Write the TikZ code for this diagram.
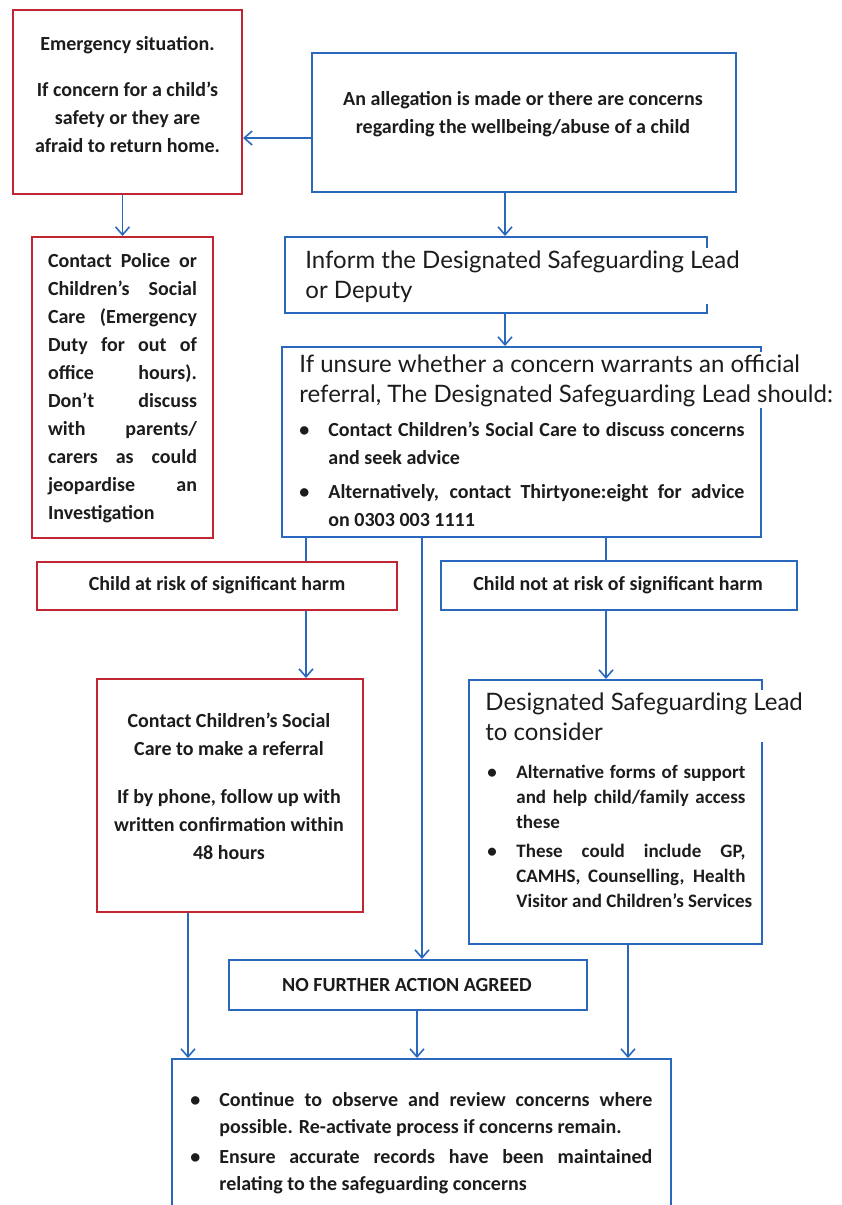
\documentclass[tikz,border=0pt]{standalone}
\usepackage{fontspec}
\setmainfont{Carlito}
\newfontfamily\headfont{Lato}
\usetikzlibrary{arrows.meta}
\definecolor{linered}{RGB}{193,39,50}
\definecolor{lineblue}{RGB}{42,104,190}
\definecolor{ink}{RGB}{28,28,28}
\tikzset{
  redbox/.style={draw=linered, line width=1pt, inner sep=0pt},
  bluebox/.style={draw=lineblue, line width=1pt, inner sep=0pt},
  txt/.style={text=ink, inner sep=0pt, font=\bfseries\fontsize{10}{14}\selectfont},
  headtxt/.style={text=ink, fill=white, inner sep=1pt, align=left, anchor=north west,
    font=\headfont\fontsize{12}{15}\selectfont},
  arr/.style={lineblue, line width=0.8pt, -{Straight Barb[length=4pt,width=7pt]}},
  link/.style={lineblue, line width=0.8pt},
}
\newcommand\bul{\makebox[14.5pt][l]{\textbullet}}
\newcommand\jline[2]{\makebox[#1][s]{#2}}
\begin{document}
\begin{tikzpicture}[x=0.5pt, y=-0.5pt]
\useasboundingbox (0,0) rectangle (841,1205);
\clip (0,0) rectangle (841,1205);

% boxes
\node[redbox, minimum width=114.5pt, minimum height=92pt] (emerg) at (127.5,102) {};
\node[bluebox, minimum width=212pt, minimum height=69.5pt] (alleg) at (524,122.5) {};
\node[redbox, minimum width=90.5pt, minimum height=150.5pt] (police) at (122.5,387.5) {};
\node[bluebox, minimum width=211pt, minimum height=38pt] (inform) at (496,275) {};
\node[bluebox, minimum width=239.5pt, minimum height=95pt] (unsure) at (521.5,442) {};
\node[redbox, minimum width=180pt, minimum height=24pt] (risk) at (217,586) {};
\node[bluebox, minimum width=178pt, minimum height=24.5pt] (norisk) at (619,585.5) {};
\node[redbox, minimum width=133pt, minimum height=116.5pt] (contact) at (230,795.5) {};
\node[bluebox, minimum width=146.5pt, minimum height=132pt] (dsl) at (615.5,812) {};
\node[bluebox, minimum width=179pt, minimum height=25pt] (nfa) at (408,985) {};
\node[bluebox, minimum width=249.5pt, minimum height=83pt] (review) at (421.5,1142) {};

% lanes for the connectors
\coordinate (rowa) at (0,138);
\coordinate (lanea) at (505,0);
\coordinate (laneb) at (306,0);
\coordinate (lanec) at (422,0);
\coordinate (laned) at (606,0);
\coordinate (lanee) at (188,0);
\coordinate (lanef) at (417,0);
\coordinate (laneg) at (628,0);

% connectors
\draw[arr] (alleg.west |- rowa) -- (emerg.east |- rowa);
\draw[arr] (emerg.south -| police.north) -- (police.north);
\draw[arr] (alleg.south -| lanea) -- (inform.north -| lanea);
\draw[arr] (inform.south -| lanea) -- (unsure.north -| lanea);
\draw[link] (unsure.south -| laneb) -- (risk.north -| laneb);
\draw[arr] (risk.south -| laneb) -- (contact.north -| laneb);
\draw[arr] (unsure.south -| lanec) -- (nfa.north -| lanec);
\draw[link] (unsure.south -| laned) -- (norisk.north -| laned);
\draw[arr] (norisk.south -| laned) -- (dsl.north -| laned);
\draw[arr] (contact.south -| lanee) -- (review.north -| lanee);
\draw[arr] (nfa.south -| lanef) -- (review.north -| lanef);
\draw[arr] (dsl.south -| laneg) -- (review.north -| laneg);

% texts
\node[txt, align=center] (emergtxt) at (127.5,94.5) {Emergency situation.\\[9pt]
  If concern for a child’s\\ safety or they are\\ afraid to return home.};
\node[txt, align=center] (allegtxt) at (523,114) {An allegation is made or there are concerns\\
  regarding the wellbeing/abuse of a child};
\node[txt, align=left] (policetxt) at (122.5,388) {\jline{74.5pt}{Contact Police or}\\
  \jline{74.5pt}{Children’s Social}\\ \jline{74.5pt}{Care (Emergency}\\
  \jline{74.5pt}{Duty for out of}\\ \jline{74.5pt}{office hours).}\\
  \jline{74.5pt}{Don’t discuss}\\ \jline{74.5pt}{with parents/}\\
  \jline{74.5pt}{carers as could}\\ \jline{74.5pt}{jeopardise an}\\ Investigation};
\node[headtxt] (informtxt) at (303,248) {Inform the Designated Safeguarding Lead\\or Deputy};
\node[headtxt] (unsuretxt) at (297,352) {If unsure whether a concern warrants an official\\
  referral, The Designated Safeguarding Lead should:};
\node[txt, align=left, anchor=north west] (unsurebul) at (299,422) {%
  \bul\jline{208pt}{Contact Children’s Social Care to discuss concerns}\\
  \hspace*{14.5pt}and seek advice\\[3pt]
  \bul\jline{208pt}{Alternatively, contact Thirtyone:eight for advice}\\
  \hspace*{14.5pt}on 0303 003 1111};
\node[txt] (risktxt) at (217,585) {Child at risk of significant harm};
\node[txt] (norisktxt) at (618,585) {Child not at risk of significant harm};
\node[txt, align=center] (contacttxt) at (229,786) {Contact Children’s Social\\
  Care to make a referral\\[10pt] If by phone, follow up with\\
  written confirmation within\\ 48 hours};
\node[headtxt] (dsltxt) at (483,690) {Designated Safeguarding Lead\\to consider};
\node[txt, align=left, anchor=north west, font=\bfseries\fontsize{9.5}{12.5}\selectfont]
  (dslbul) at (487,765) {%
  \bul\jline{114.5pt}{Alternative forms of support}\\
  \hspace*{14.5pt}\jline{114.5pt}{and help child/family access}\\
  \hspace*{14.5pt}these\\[2pt]
  \bul\jline{114.5pt}{These could include GP,}\\
  \hspace*{14.5pt}\jline{114.5pt}{CAMHS, Counselling, Health}\\
  \hspace*{14.5pt}Visitor and Children’s Services};
\node[txt] (nfatxt) at (407,985) {NO FURTHER ACTION AGREED};
\node[txt, align=left, anchor=north west, font=\bfseries\fontsize{10}{13.5}\selectfont]
  (reviewtxt) at (190,1092) {%
  \bul\jline{216.5pt}{Continue to observe and review concerns where}\\
  \hspace*{14.5pt}possible. Re-activate process if concerns remain.\\[1.5pt]
  \bul\jline{216.5pt}{Ensure accurate records have been maintained}\\
  \hspace*{14.5pt}relating to the safeguarding concerns};
\end{tikzpicture}
\end{document}
